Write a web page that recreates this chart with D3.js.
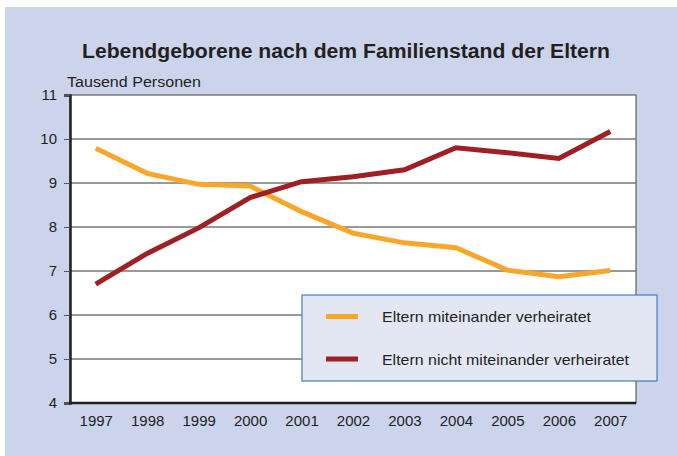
<!DOCTYPE html>
<html>
<head>
<meta charset="utf-8">
<script src="https://cdn.jsdelivr.net/npm/d3@7"></script>
<style>
  body { margin: 0; background: #fff; }
  svg { display: block; font-family: "Liberation Sans", Arial, sans-serif; }
</style>
</head>
<body>
<svg id="chart" width="677" height="456"></svg>
<script>
const years = [1997, 1998, 1999, 2000, 2001, 2002, 2003, 2004, 2005, 2006, 2007];
const married = [9.79, 9.22, 8.97, 8.93, 8.35, 7.86, 7.64, 7.53, 7.02, 6.87, 7.01];
const unmarried = [6.70, 7.40, 7.98, 8.67, 9.03, 9.14, 9.30, 9.80, 9.69, 9.56, 10.17];
const yTicks = [4, 5, 6, 7, 8, 9, 10, 11];
const seriesNames = ['Eltern miteinander verheiratet', 'Eltern nicht miteinander verheiratet'];
const seriesColors = ['#F9A72B', '#9E1F24'];

const svg = d3.select('#chart');
const margin = { left: 70, top: 95, right: 636, bottom: 403 };

// background panel
svg.append('rect')
    .attr('x', 5).attr('y', 7)
    .attr('width', 672).attr('height', 449)
    .attr('fill', '#CBD4EB');

svg.append('text')
    .attr('x', 82).attr('y', 58)
    .attr('textLength', 528)
    .attr('lengthAdjust', 'spacingAndGlyphs')
    .style('font-size', '19.5px')
    .style('font-weight', 'bold')
    .attr('fill', '#231F20')
    .text('Lebendgeborene nach dem Familienstand der Eltern');

svg.append('text')
    .attr('x', 67).attr('y', 87)
    .attr('textLength', 134)
    .attr('lengthAdjust', 'spacingAndGlyphs')
    .style('font-size', '14px')
    .attr('fill', '#231F20')
    .text('Tausend Personen');

const x = d3.scalePoint()
    .domain(years)
    .range([margin.left, margin.right])
    .padding(0.5);

const y = d3.scaleLinear()
    .domain([4, 11])
    .range([margin.bottom, margin.top]);

// plot area
svg.append('rect')
    .attr('x', margin.left).attr('y', margin.top)
    .attr('width', margin.right - margin.left)
    .attr('height', margin.bottom - margin.top)
    .attr('fill', '#fff')
    .attr('stroke', '#444')
    .attr('stroke-width', 1);

// gridlines
svg.append('g')
    .selectAll('line')
    .data(yTicks.filter(d => d > 4 && d < 11))
    .enter()
    .append('line')
    .attr('x1', margin.left).attr('x2', margin.right)
    .attr('y1', d => y(d)).attr('y2', d => y(d))
    .attr('stroke', '#777')
    .attr('stroke-width', 1.3);

// y axis
const yAxis = svg.append('g')
    .attr('transform', `translate(${margin.left},0)`)
    .call(d3.axisLeft(y).tickValues(yTicks).tickSize(6).tickPadding(7).tickFormat(d3.format('d')));
yAxis.select('.domain').attr('stroke', '#231F20').attr('stroke-width', 2.5);
yAxis.selectAll('.tick line').attr('stroke', '#555');
yAxis.selectAll('.tick text').style('font-size', '15px').attr('fill', '#231F20');

// x axis
const xAxis = svg.append('g')
    .attr('transform', `translate(0,${margin.bottom})`)
    .call(d3.axisBottom(x).tickSize(0).tickPadding(12).tickFormat(d3.format('d')));
xAxis.select('.domain').attr('stroke', '#231F20').attr('stroke-width', 2.5)
    .attr('d', `M${margin.left - 1},0H${margin.right}`);
xAxis.selectAll('.tick text').style('font-size', '15px').attr('fill', '#231F20');

const line = d3.line()
    .x((d, i) => x(years[i]))
    .y(d => y(d));

[married, unmarried].forEach((values, index) => {
    svg.append('path')
        .datum(values)
        .attr('d', line)
        .attr('fill', 'none')
        .attr('stroke', seriesColors[index])
        .attr('stroke-width', 5);
});

// legend
const legendWidths = [209, 247];
const legend = svg.append('g');
legend.append('rect')
    .attr('x', 302).attr('y', 295)
    .attr('width', 355).attr('height', 86)
    .attr('fill', '#E3E7F4')
    .attr('stroke', '#3F7EC1')
    .attr('stroke-width', 1.2);

seriesNames.forEach((name, i) => {
    const ly = 316.5 + i * 42.5;
    legend.append('line')
        .attr('x1', 326).attr('x2', 358)
        .attr('y1', ly).attr('y2', ly)
        .attr('stroke', seriesColors[i])
        .attr('stroke-width', 5);
    legend.append('text')
        .attr('x', 382).attr('y', ly + 5.5)
        .attr('textLength', legendWidths[i])
        .attr('lengthAdjust', 'spacingAndGlyphs')
        .style('font-size', '15px')
        .attr('fill', '#231F20')
        .text(name);
});
</script>
</body>
</html>
